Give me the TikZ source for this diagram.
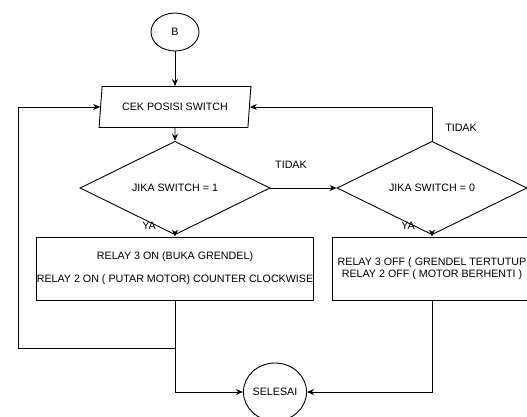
\documentclass[tikz,border=0pt]{standalone}
\usepackage{fontspec}
\setmainfont{Liberation Sans}
\usetikzlibrary{shapes.geometric,arrows.meta}
\tikzset{>={Stealth[length=7pt,width=6pt]}}
\tikzset{
  base/.style={draw, inner sep=0pt, align=center, font=\fontsize{10.7}{12}\selectfont},
  term/.style={base, ellipse},
  io/.style={base, trapezium, trapezium left angle=74, trapezium right angle=106,
    trapezium stretches=true, minimum width=152pt, minimum height=41pt},
  deci/.style={base, diamond, minimum width=190pt, minimum height=52pt},
  proc/.style={base, rectangle, minimum height=63pt},
  lbl/.style={inner sep=0pt, font=\fontsize{10.7}{12}\selectfont}
}

\begin{document}
\begin{tikzpicture}[x=1pt, y=-1pt, line width=0.9pt]
    \clip (0,0) rectangle (527,416);
    \node[term, minimum width=48pt, minimum height=38pt] (B) at (175,32) {B};
    \node[io] (cek) at (175,107) {CEK POSISI SWITCH};
    \node[deci] (sw1) at (175,188) {JIKA SWITCH = 1};
    \node[deci] (sw0) at (432,188) {JIKA SWITCH = 0};
    \node[proc, minimum width=270pt] (buka) at (175,268.5)
        {RELAY 3 ON (BUKA GRENDEL)\\[11pt]RELAY 2 ON ( PUTAR MOTOR) COUNTER CLOCKWISE};
    \node[proc, minimum width=200pt] (tutup) at (432,268.5)
        {RELAY 3 OFF ( GRENDEL TERTUTUP\\RELAY 2 OFF ( MOTOR BERHENTI )};
    \node[term, minimum width=60pt, minimum height=58pt] (end) at (275,392) {SELESAI};
    \node[lbl] (tidak1) at (291,165) {TIDAK};
    \node[lbl] (tidak2) at (461,128) {TIDAK};
    \node[lbl] (ya1) at (149,226) {YA};
    \node[lbl] (ya2) at (408,226) {YA};
    \coordinate (jn) at (175,348);
    \coordinate (lp) at (18,348);
    \draw[->] (B) -- (cek);
    \draw[->] (cek) -- (sw1);
    \draw[->] (sw1) -- (sw0);
    \draw[->] (sw0.north) |- (cek);
    \draw[->] (sw1) -- (buka);
    \draw[->] (sw0) -- (tutup);
    \draw[->] (buka) |- (end);
    \draw[->] (tutup) |- (end);
    \draw[->] (jn) -- (lp) |- (cek);
\end{tikzpicture}
\end{document}
